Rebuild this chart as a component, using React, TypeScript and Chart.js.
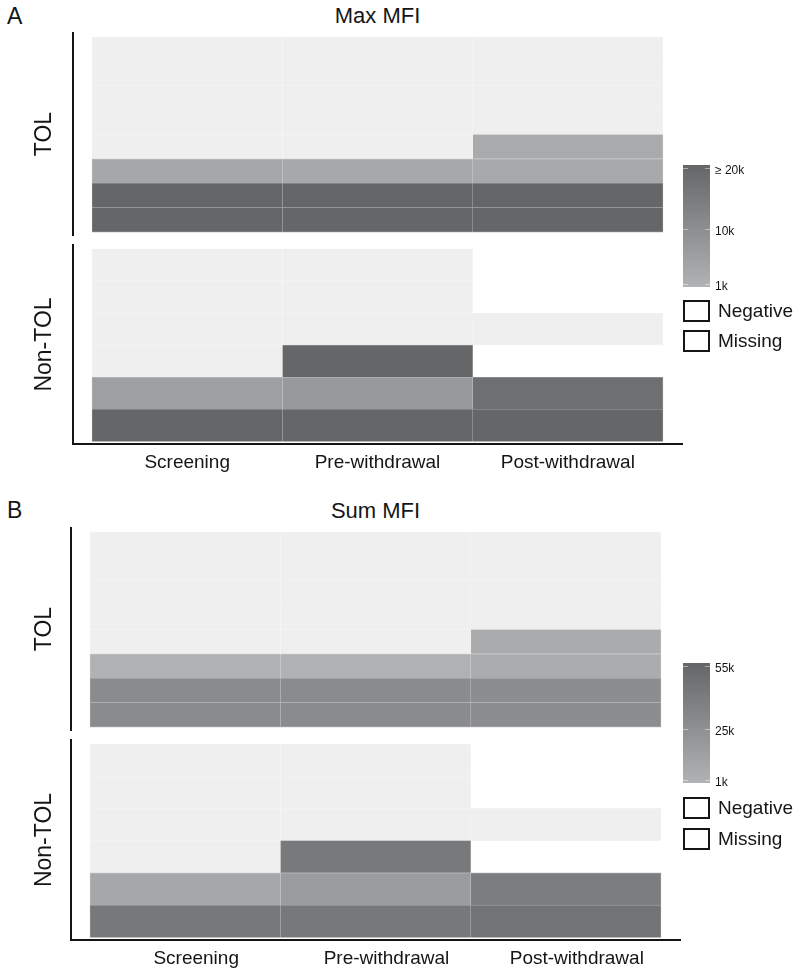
import React, { useEffect, useRef } from "react";
import { Chart, registerables } from "chart.js";

Chart.register(...registerables);

// ---------- data ----------
const timepoints = ["Screening", "Pre-withdrawal", "Post-withdrawal"];
const groupTol = "TOL";
const groupNonTol = "Non-TOL";

// MFI per patient row, listed top -> bottom. 0 = Negative, null = Missing
const maxTolScreening = [0, 0, 0, 0, 0, 3800, 20000, 20000];
const maxTolPre = [0, 0, 0, 0, 0, 3600, 20000, 20000];
const maxTolPost = [0, 0, 0, 0, 3000, 3300, 20000, 20000];

const maxNonScreening = [0, 0, 0, 0, 5700, 20000];
const maxNonPre = [0, 0, 0, 20000, 7200, 20000];
const maxNonPost = [null, null, 0, null, 17800, 20000];

const sumTolScreening = [0, 0, 0, 0, 0, 2000, 28500, 28500];
const sumTolPre = [0, 0, 0, 0, 0, 2000, 28500, 28500];
const sumTolPost = [0, 0, 0, 0, 6000, 5500, 27500, 27500];

const sumNonScreening = [0, 0, 0, 0, 9000, 42000];
const sumNonPre = [0, 0, 0, 41500, 16500, 42000];
const sumNonPost = [null, null, 0, null, 38500, 46000];

const maxRange = [1000, 20000];
const sumRange = [1000, 55000];
const maxLegendValues = [20000, 10000, 1000];
const maxLegendLabels = ["≥ 20k", "10k", "1k"];
const sumLegendValues = [55000, 25000, 1000];
const sumLegendLabels = ["55k", "25k", "1k"];
const legendKeys = ["Negative", "Missing"];

// ---------- styling ----------
const FONT = '"Liberation Sans", Arial, Helvetica, sans-serif';
const INK = "#151515";
const LOW = [177, 178, 180];
const HIGH = [101, 102, 104];
const NEG = [239, 239, 239];
const CANVAS_W = 700;

function rgbFor(v: number, vmin: number, vmax: number): number[] {
  if (v === 0) return NEG;
  const t = Math.max(0, Math.min(1, (v - vmin) / (vmax - vmin)));
  return LOW.map((l, i) => Math.round(l + (HIGH[i] - l) * t));
}
const css = (c: number[]) => `rgb(${c[0]},${c[1]},${c[2]})`;
const lighter = (c: number[]) => css(c.map((x) => Math.round(x + (255 - x) * 0.4)));

type PanelProps = {
  group: string;
  cols: (number | null)[][];
  range: number[];
  top: number;
  height: number;
  yWidth: number;
  padRight: number;
  padTop: number;
  padBottom: number;
  showX: boolean;
  xHeight: number;
  yMin: number;
  yMax: number;
  labelOffset: number;
};

function HeatPanel(p: PanelProps) {
  const ref = useRef<HTMLCanvasElement | null>(null);
  useEffect(() => {
    if (!ref.current) return;
    const [vmin, vmax] = p.range;
    const datasets = p.cols.map((vals, ti) => {
      const n = vals.length;
      const data: any[] = [];
      const bg: string[] = [];
      const bd: string[] = [];
      vals.forEach((v, r) => {
        if (v === null) return;
        const y0 = n - 1 - r;
        data.push({ x: ti, y: [y0, y0 + 1] });
        const c = rgbFor(v, vmin, vmax);
        bg.push(css(c));
        bd.push(lighter(c));
      });
      return {
        label: timepoints[ti],
        data,
        backgroundColor: bg,
        borderColor: bd,
        borderWidth: 0.6,
        borderSkipped: false as const,
        grouped: false,
        barPercentage: 1,
        categoryPercentage: 1,
      };
    });
    const chart = new Chart(ref.current, {
      type: "bar",
      data: { datasets: datasets as any },
      options: {
        animation: false,
        responsive: false,
        maintainAspectRatio: false,
        events: [],
        layout: { padding: { top: p.padTop, bottom: p.padBottom, left: 0, right: p.padRight } },
        plugins: { legend: { display: false }, tooltip: { enabled: false }, title: { display: false } },
        scales: {
          x: {
            type: "linear",
            min: -0.6,
            max: 2.6,
            offset: false,
            grid: { display: false, drawTicks: false },
            border: { display: p.showX, width: 2, color: INK },
            afterBuildTicks: (s: any) => {
              s.ticks = timepoints.map((_, i) => ({ value: i }));
            },
            afterFit: (s: any) => {
              s.height = p.xHeight;
            },
            ticks: {
              display: p.showX,
              maxRotation: 0,
              minRotation: 0,
              autoSkip: false,
              padding: 7,
              labelOffset: p.labelOffset,
              color: INK,
              font: { family: FONT, size: 19 },
              callback: (_v: any, i: number) => timepoints[i],
            },
          },
          y: {
            type: "linear",
            min: p.yMin,
            max: p.yMax,
            grid: { display: false, drawTicks: false },
            border: { display: true, width: 2, color: INK },
            ticks: { display: false },
            afterFit: (s: any) => {
              s.width = p.yWidth;
            },
            title: {
              display: true,
              text: p.group,
              color: INK,
              font: { family: FONT, size: 23 },
              padding: { top: 31, bottom: 0 },
            },
          },
        },
      } as any,
    });
    return () => chart.destroy();
  }, []);
  return (
    <canvas
      ref={ref}
      width={CANVAS_W}
      height={p.height}
      style={{ position: "absolute", left: 0, top: p.top, width: CANVAS_W, height: p.height, display: "block" }}
    />
  );
}

function Txt(props: { left: number; top: number; size: number; text: string; width?: number; center?: boolean }) {
  return (
    <div
      style={{
        position: "absolute",
        left: props.left,
        top: props.top,
        width: props.width,
        textAlign: props.center ? "center" : "left",
        fontSize: props.size,
        lineHeight: `${props.size}px`,
        fontFamily: FONT,
        color: INK,
        whiteSpace: "nowrap",
      }}
    >
      {props.text}
    </div>
  );
}

function ColorBar(props: { top: number; height: number; range: number[]; values: number[]; labels: string[] }) {
  const left = 683;
  const width = 27;
  const inset = 3;
  const [vmin, vmax] = props.range;
  const pos = (v: number) => props.top + inset + ((vmax - v) / (vmax - vmin)) * (props.height - 2 * inset);
  return (
    <>
      <div
        style={{
          position: "absolute",
          left,
          top: props.top,
          width,
          height: props.height,
          background: `linear-gradient(to bottom, ${css(HIGH)}, ${css(LOW)})`,
        }}
      />
      {props.values.map((v, i) => (
        <React.Fragment key={i}>
          <div style={{ position: "absolute", left, top: pos(v) - 0.5, width: 5, height: 1, background: "rgba(255,255,255,0.45)" }} />
          <div style={{ position: "absolute", left: left + width - 5, top: pos(v) - 0.5, width: 5, height: 1, background: "rgba(255,255,255,0.45)" }} />
          <Txt left={715} top={pos(v) + 1.5 - 5.9} size={12} text={props.labels[i]} />
        </React.Fragment>
      ))}
    </>
  );
}

function KeyBoxes(props: { tops: number[] }) {
  return (
    <>
      {legendKeys.map((k, i) => (
        <React.Fragment key={k}>
          <div
            style={{
              position: "absolute",
              left: 683,
              top: props.tops[i],
              width: 27,
              height: 22,
              boxSizing: "border-box",
              border: `2px solid ${INK}`,
              background: "#fff",
            }}
          />
          <Txt left={718} top={props.tops[i] + 11 - 9.8} size={19} text={k} />
        </React.Fragment>
      ))}
    </>
  );
}

export default function App() {
  return (
    <div style={{ position: "absolute", left: 0, top: 0, width: 800, height: 971, background: "#fff", overflow: "hidden" }}>
      {/* Panel A */}
      <Txt left={7} top={5} size={23} text="A" />
      <Txt left={73} top={5} size={22} width={609} center text="Max MFI" />
      <HeatPanel
        group={groupTol}
        cols={[maxTolScreening, maxTolPre, maxTolPost]}
        range={maxRange}
        top={28}
        height={212}
        yWidth={73}
        padRight={18}
        padTop={5}
        padBottom={5}
        showX={false}
        xHeight={0}
        yMin={-0.12}
        yMax={8.16}
        labelOffset={0}
      />
      <HeatPanel
        group={groupNonTol}
        cols={[maxNonScreening, maxNonPre, maxNonPost]}
        range={maxRange}
        top={240}
        height={240}
        yWidth={73}
        padRight={18}
        padTop={5}
        padBottom={0}
        showX={true}
        xHeight={36}
        yMin={-0.08}
        yMax={6.12}
        labelOffset={0}
      />
      <ColorBar top={165} height={122} range={maxRange} values={maxLegendValues} labels={maxLegendLabels} />
      <KeyBoxes tops={[300, 330]} />

      {/* Panel B */}
      <Txt left={7} top={499} size={23} text="B" />
      <Txt left={71} top={500} size={22} width={609} center text="Sum MFI" />
      <HeatPanel
        group={groupTol}
        cols={[sumTolScreening, sumTolPre, sumTolPost]}
        range={sumRange}
        top={523}
        height={212}
        yWidth={71}
        padRight={20}
        padTop={5}
        padBottom={5}
        showX={false}
        xHeight={0}
        yMin={-0.12}
        yMax={8.16}
        labelOffset={0}
      />
      <HeatPanel
        group={groupNonTol}
        cols={[sumNonScreening, sumNonPre, sumNonPost]}
        range={sumRange}
        top={735}
        height={236}
        yWidth={71}
        padRight={20}
        padTop={5}
        padBottom={0}
        showX={true}
        xHeight={31}
        yMin={-0.08}
        yMax={6.12}
        labelOffset={11}
      />
      <ColorBar top={663} height={120} range={sumRange} values={sumLegendValues} labels={sumLegendLabels} />
      <KeyBoxes tops={[797, 828]} />
    </div>
  );
}
